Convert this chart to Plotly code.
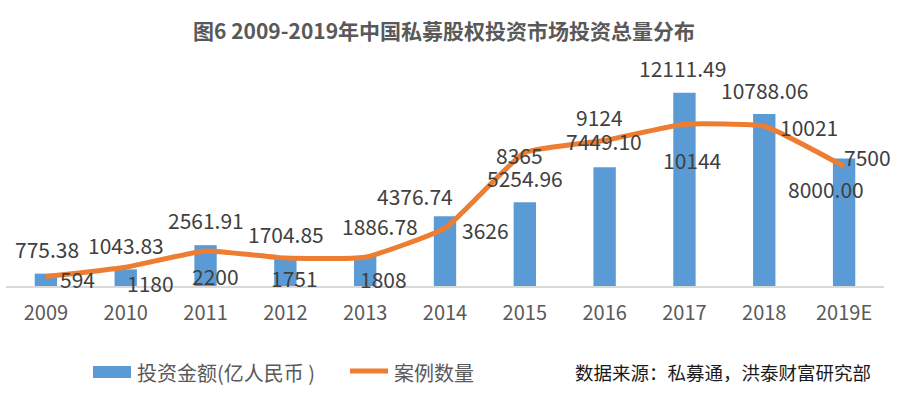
import plotly.graph_objects as go

# ---- data ----
years = ["2009", "2010", "2011", "2012", "2013", "2014", "2015", "2016", "2017", "2018", "2019E"]
amount = [775.38, 1043.83, 2561.91, 1704.85, 1886.78, 4376.74, 5254.96, 7449.10, 12111.49, 10788.06, 8000.00]
amount_labels = ["775.38", "1043.83", "2561.91", "1704.85", "1886.78", "4376.74", "5254.96", "7449.10", "12111.49", "10788.06", "8000.00"]
cases = [594, 1180, 2200, 1751, 1808, 3626, 8365, 9124, 10144, 10021, 7500]
cases_labels = ["594", "1180", "2200", "1751", "1808", "3626", "8365", "9124", "10144", "10021", "7500"]

title = "图6 2009-2019年中国私募股权投资市场投资总量分布"
legend_bar = "投资金额(亿人民币 )"
legend_line = "案例数量"
source = "数据来源：私募通，洪泰财富研究部"

# ---- label offsets (px) ----
amt_dx = [1, 0, 0, 1, 15, -30, 0, -1, -2, 0, -18]
amt_dy = [25, 24, 25, 25, 30, 20, 24, 26, 25, 24, -31]
cas_dx = [32, 25, 10, 9, 18, 40, -5, -5, 8, 45, 23]
cas_dy = [-2, -16, -25, -20, -22, -2, -2, 24, -36, -1, 9]

FONT = "Noto Sans CJK SC, Liberation Sans, sans-serif"
BLUE = "#5B9BD5"
ORANGE = "#ED7D31"

W, H = 904, 394
L, R, T, B = 6, 20, 50, 108
pw, ph = W - L - R, H - T - B

def px(x):
    return (x - L) / pw

def py(y):
    return (H - B - y) / ph

fig = go.Figure()
fig.add_trace(go.Bar(x=years, y=amount, name=legend_bar, marker=dict(color=BLUE, line=dict(width=0)),
                     width=0.28, showlegend=False))
fig.add_trace(go.Scatter(x=years, y=cases, name=legend_line, mode="lines",
                         line=dict(color=ORANGE, width=5, shape="spline", smoothing=0.4),
                         showlegend=False))

anns = []
for i in range(len(years)):
    anns.append(dict(x=i, y=amount[i], xref="x", yref="y", text=amount_labels[i], showarrow=False,
                     xanchor="center", yanchor="middle", xshift=amt_dx[i], yshift=amt_dy[i],
                     font=dict(family=FONT, size=21, color="#404040")))
    anns.append(dict(x=i, y=cases[i], xref="x", yref="y", text=cases_labels[i], showarrow=False,
                     xanchor="center", yanchor="middle", xshift=cas_dx[i], yshift=cas_dy[i],
                     font=dict(family=FONT, size=21, color="#404040")))

anns.append(dict(x=px(444), y=py(30), xref="paper", yref="paper", text="<b>" + title + "</b>", showarrow=False,
                 xanchor="center", yanchor="middle", font=dict(family=FONT, size=21, color="#595959")))
anns.append(dict(x=px(135), y=py(372), xref="paper", yref="paper", text=legend_bar, showarrow=False,
                 xanchor="left", yanchor="middle", font=dict(family=FONT, size=20, color="#595959")))
anns.append(dict(x=px(392), y=py(372), xref="paper", yref="paper", text=legend_line, showarrow=False,
                 xanchor="left", yanchor="middle", font=dict(family=FONT, size=20, color="#595959")))
anns.append(dict(x=px(873), y=py(372), xref="paper", yref="paper", text=source, showarrow=False,
                 xanchor="right", yanchor="middle", font=dict(family=FONT, size=18.5, color="#1A1A1A")))

shapes = [
    dict(type="rect", xref="paper", yref="paper", x0=px(93), x1=px(131), y0=py(378), y1=py(366),
         fillcolor=BLUE, line=dict(width=0)),
    dict(type="line", xref="paper", yref="paper", x0=px(350), x1=px(388), y0=py(371), y1=py(371),
         line=dict(color=ORANGE, width=5)),
]

fig.update_layout(
    width=W, height=H,
    margin=dict(l=L, r=R, t=T, b=B),
    paper_bgcolor="white", plot_bgcolor="white",
    xaxis=dict(type="category", range=[-0.5, len(years) - 0.5], showline=True, linecolor="#D9D9D9",
               linewidth=2, showgrid=False, ticks="",
               tickfont=dict(family=FONT, size=20, color="#595959"), ticklabelstandoff=8),
    yaxis=dict(range=[0, 14800], visible=False, showgrid=False, zeroline=False),
    font=dict(family=FONT),
    annotations=anns,
    shapes=shapes,
)

fig.write_html("out.html", config={"displayModeBar": False},
               post_script="document.body.style.margin='0';document.body.style.overflow='hidden';")
